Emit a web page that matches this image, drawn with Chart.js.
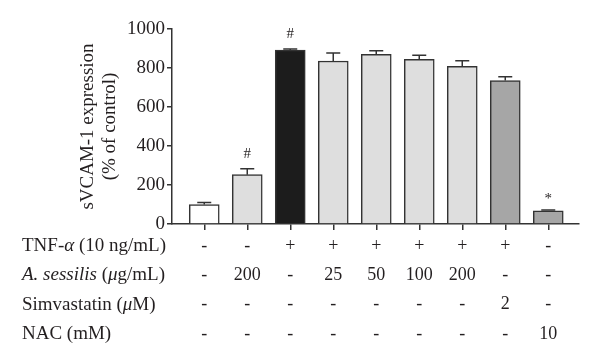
<!DOCTYPE html>
<html>
<head>
<meta charset="utf-8">
<script src="https://cdn.jsdelivr.net/npm/chart.js@4/dist/chart.umd.min.js"></script>
<style>
html, body { margin: 0; padding: 0; background: #fff; }
</style>
</head>
<body>
<canvas id="myChart" width="600" height="364"></canvas>
<script>
// bar heights and upper error bar ends (% of control)
const expression = [100, 253, 892, 836, 870, 844, 808, 736, 68];
const errorTop = [110, 283, 897, 877, 889, 866, 837, 755, 72];
const marks = ["", "#", "#", "", "", "", "", "", "*"];

// treatment table under the axis
const tnf = ["-", "-", "+", "+", "+", "+", "+", "+", "-"];
const sessilis = ["-", "200", "-", "25", "50", "100", "200", "-", "-"];
const simvastatin = ["-", "-", "-", "-", "-", "-", "-", "2", "-"];
const nac = ["-", "-", "-", "-", "-", "-", "-", "-", "10"];
const yTicks = [0, 200, 400, 600, 800, 1000];

const barColors = [
    "#ffffff", "#dedede", "#1c1c1c", "#dedede", "#dedede",
    "#dedede", "#dedede", "#a6a6a6", "#a6a6a6",
];
const rowLabels = [
    [["TNF-", false], ["\u03b1", true], [" (10 ng/mL)", false]],
    [["A. sessilis", true], [" (", false], ["\u03bc", true], ["g/mL)", false]],
    [["Simvastatin (", false], ["\u03bc", true], ["M)", false]],
    [["NAC (mM)", false]],
];

const FONT = "'Liberation Serif', 'DejaVu Serif', serif";
const INK = "#231f20";
const TICK_LEN = 6;
const LABEL_PAD = 1.5;
const ROW_H = 29.3;

const extras = {
    id: "extras",
    afterDatasetsDraw(chart) {
        const ctx = chart.ctx;
        const xs = chart.scales.x;
        const ys = chart.scales.y;
        ctx.save();
        ctx.strokeStyle = "#333";
        ctx.lineWidth = 1.5;
        ctx.fillStyle = INK;
        ctx.textAlign = "center";
        ctx.textBaseline = "middle";
        expression.forEach((v, i) => {
            const x = xs.getPixelForValue(i);
            const y0 = ys.getPixelForValue(v);
            const y1 = ys.getPixelForValue(errorTop[i]);
            ctx.beginPath();
            ctx.moveTo(x, y0);
            ctx.lineTo(x, y1);
            ctx.moveTo(x - 7, y1);
            ctx.lineTo(x + 7, y1);
            ctx.stroke();
            if (marks[i]) {
                ctx.font = "15px " + FONT;
                ctx.fillText(marks[i], x, y1 - (marks[i] === "*" ? 11 : 15));
            }
        });
        ctx.restore();
    },
    afterDraw(chart) {
        const ctx = chart.ctx;
        const xs = chart.scales.x;
        ctx.save();
        ctx.fillStyle = INK;
        ctx.textAlign = "left";
        ctx.textBaseline = "middle";
        rowLabels.forEach((parts, r) => {
            let x = 22;
            const y = xs.top + TICK_LEN + LABEL_PAD + ROW_H / 2 + r * ROW_H;
            parts.forEach(([text, italic]) => {
                ctx.font = (italic ? "italic " : "") + "19px " + FONT;
                ctx.fillText(text, x, y);
                x += ctx.measureText(text).width;
            });
        });
        ctx.restore();
    },
};

const ctx = document.getElementById("myChart").getContext("2d");
new Chart(ctx, {
    type: "bar",
    data: {
        datasets: [
            {
                data: expression.map((v, i) => ({ x: i, y: v })),
                backgroundColor: barColors,
                borderColor: "#333",
                borderWidth: 1.5,
                barThickness: 30,
            },
        ],
    },
    options: {
        responsive: false,
        animation: false,
        layout: { padding: { left: 0, right: 21, top: 29, bottom: 0 } },
        plugins: {
            legend: { display: false },
            tooltip: { enabled: false },
        },
        scales: {
            x: {
                type: "linear",
                offset: false,
                min: -0.75,
                max: 8.715,
                afterBuildTicks: (s) => {
                    s.ticks = expression.map((_, i) => ({ value: i }));
                },
                afterFit: (s) => {
                    s.height = 140;
                },
                grid: {
                    offset: false,
                    drawOnChartArea: false,
                    tickLength: TICK_LEN,
                    tickColor: "#333",
                    lineWidth: 1.5,
                },
                border: { color: "#333", width: 1.5 },
                ticks: {
                    autoSkip: false,
                    maxRotation: 0,
                    padding: LABEL_PAD,
                    color: INK,
                    font: { family: FONT, size: 18, lineHeight: ROW_H + "px" },
                    callback: (v) => [tnf[v], sessilis[v], simvastatin[v], nac[v]],
                },
            },
            y: {
                min: 0,
                max: 1000,
                afterBuildTicks: (s) => {
                    s.ticks = yTicks.map((v) => ({ value: v }));
                },
                afterFit: (s) => {
                    s.width = 172;
                },
                grid: {
                    drawOnChartArea: false,
                    tickLength: 5,
                    tickColor: "#333",
                    lineWidth: 1.5,
                },
                border: { color: "#333", width: 1.5 },
                ticks: {
                    padding: 2,
                    color: INK,
                    font: { family: FONT, size: 19 },
                    callback: (v) => String(v),
                },
                title: {
                    display: true,
                    text: ["sVCAM-1 expression", "(% of control)"],
                    color: INK,
                    padding: { top: 77, bottom: 0 },
                    font: { family: FONT, size: 19, lineHeight: "22px" },
                },
            },
        },
    },
    plugins: [extras],
});
</script>
</body>
</html>
